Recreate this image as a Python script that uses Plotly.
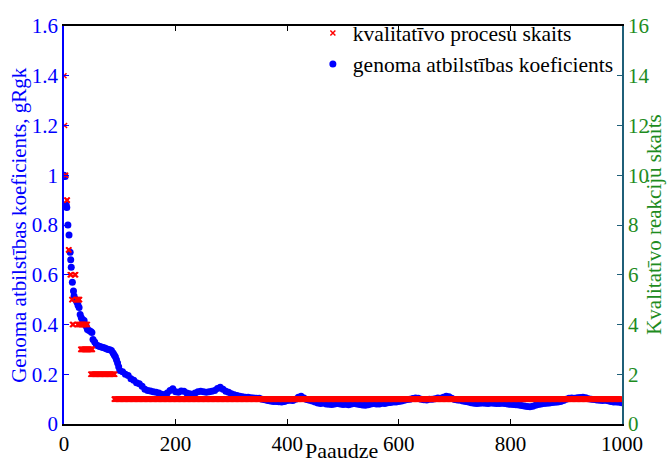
import plotly.graph_objects as go

# ---- data: genome fitness coefficient (left axis) ----
early_gen = [0, 2, 4, 5, 7, 9, 11, 12, 13, 15, 17, 18, 19, 21, 23, 25, 27, 29, 31, 33,
             36, 38, 40, 42, 45, 48, 50, 52, 55, 58, 61, 64, 67, 70, 73, 76, 79, 82, 85, 88,
             90, 92, 94, 96, 98]
early_val = [1.0, 0.995, 0.88, 0.87, 0.80, 0.76, 0.69, 0.66, 0.63, 0.57, 0.535, 0.515, 0.505, 0.50, 0.49, 0.478, 0.468, 0.44, 0.427, 0.42,
             0.416, 0.40, 0.392, 0.38, 0.376, 0.372, 0.368, 0.34, 0.33, 0.318, 0.315, 0.312, 0.31, 0.308, 0.306, 0.303, 0.30, 0.298, 0.295, 0.285,
             0.277, 0.27, 0.258, 0.245, 0.23]

late_gen = list(range(100, 1001, 5))
late_val = [
    0.215, 0.21, 0.20, 0.195, 0.182, 0.176, 0.166, 0.162, 0.152, 0.14,   # 100-145
    0.135, 0.133, 0.13, 0.128, 0.125, 0.12, 0.118, 0.125, 0.135, 0.142,  # 150-195
    0.13, 0.128, 0.133, 0.132, 0.125, 0.122, 0.12, 0.125, 0.13, 0.132,   # 200-245
    0.13, 0.128, 0.13, 0.132, 0.135, 0.143, 0.148, 0.14, 0.132, 0.128,   # 250-295
    0.122, 0.118, 0.115, 0.112, 0.11, 0.108, 0.108, 0.106, 0.105, 0.104, # 300-345
    0.104, 0.10, 0.097, 0.094, 0.092, 0.09, 0.09, 0.089, 0.088, 0.09,    # 350-395
    0.094, 0.095, 0.094, 0.10, 0.108, 0.112, 0.105, 0.098, 0.095, 0.092, # 400-445
    0.088, 0.084, 0.082, 0.084, 0.08, 0.079, 0.078, 0.08, 0.082, 0.08,   # 450-495
    0.078, 0.079, 0.077, 0.08, 0.082, 0.08, 0.078, 0.076, 0.075, 0.077,  # 500-545
    0.08, 0.082, 0.08, 0.08, 0.083, 0.082, 0.085, 0.086, 0.088, 0.088,   # 550-595
    0.09, 0.092, 0.095, 0.098, 0.10, 0.103, 0.105, 0.104, 0.10, 0.097,   # 600-645
    0.096, 0.10, 0.10, 0.102, 0.105, 0.104, 0.108, 0.112, 0.11, 0.104,   # 650-695
    0.098, 0.096, 0.095, 0.092, 0.09, 0.088, 0.085, 0.083, 0.082, 0.083, # 700-745
    0.084, 0.083, 0.082, 0.084, 0.083, 0.082, 0.082, 0.083, 0.082, 0.08, # 750-795
    0.079, 0.078, 0.077, 0.076, 0.074, 0.072, 0.07, 0.069, 0.071, 0.075, # 800-845
    0.078, 0.08, 0.082, 0.083, 0.084, 0.086, 0.087, 0.088, 0.09, 0.094,  # 850-895
    0.10, 0.104, 0.105, 0.104, 0.106, 0.107, 0.108, 0.106, 0.102, 0.10,  # 900-945
    0.098, 0.096, 0.095, 0.094, 0.095, 0.093, 0.09, 0.088, 0.088, 0.087, # 950-995
    0.085,                                                               # 1000
]

# ---- data: number of qualitative processes (right axis), as runs ----
red_val = [14, 12, 10, 9, 7, 6, 5, 4, 6, 5, 4, 3, 2, 1]
red_start = [0, 1, 2, 5, 8, 11, 14, 15, 19, 22, 24, 30, 48, 90]
red_end = [0, 1, 3, 6, 9, 13, 15, 17, 21, 28, 42, 51, 91, 1000]

red_x, red_y = [], []
for s, e, v in zip(red_start, red_end, red_val):
    for g in range(s, e + 1):
        red_x.append(g)
        red_y.append(v)

blue_x = early_gen + late_gen
blue_y = early_val + late_val

FONT = "Liberation Serif, Times New Roman, DejaVu Serif, serif"
BLUE = "#0000ff"
GREEN = "#1e8c1e"
TEAL = "#1f5f78"

fig = go.Figure()
fig.add_trace(go.Scatter(
    x=blue_x, y=blue_y, mode="markers", name="genoma atbilstības koeficients",
    marker=dict(color=BLUE, size=7, line=dict(width=0)), legendrank=2, yaxis="y"))
fig.add_trace(go.Scatter(
    x=red_x, y=red_y, mode="markers", name="kvalitatīvo procesu skaits",
    marker=dict(color="#ff0000", size=5, symbol="x-thin", line=dict(width=1.5, color="#ff0000")),
    legendrank=1, yaxis="y2"))

fig.update_layout(
    width=668, height=468,
    margin=dict(l=64, r=46, t=16, b=42),
    paper_bgcolor="white", plot_bgcolor="white",
    font=dict(family=FONT, size=21, color="black"),
    showlegend=True,
    legend=dict(x=0.446, y=1.034, xanchor="left", yanchor="top",
                bgcolor="rgba(255,255,255,0)", font=dict(family=FONT, size=21.5),
                tracegroupgap=0),
    xaxis=dict(range=[0, 1000], dtick=200, showgrid=False, zeroline=False,
               showline=True, linecolor="black", linewidth=1.5, mirror="ticks",
               ticks="inside", ticklen=5, tickcolor="black",
               tickfont=dict(family=FONT, size=21, color="black")),
    yaxis=dict(range=[0, 1.6], dtick=0.2, showgrid=False, zeroline=False,
               showline=True, linecolor=BLUE, linewidth=1.5,
               ticks="inside", ticklen=5, tickcolor=BLUE,
               tickfont=dict(family=FONT, size=21, color=BLUE)),
    yaxis2=dict(range=[0, 16], dtick=2, overlaying="y", side="right",
                showgrid=False, zeroline=False,
                showline=True, linecolor=TEAL, linewidth=1.5,
                ticks="inside", ticklen=5, tickcolor=TEAL,
                tickfont=dict(family=FONT, size=21, color=GREEN)),
    annotations=[
        dict(text="Paaudze", xref="paper", yref="paper", x=0.498, y=-0.1024,
             xanchor="center", yanchor="bottom", showarrow=False,
             font=dict(family=FONT, size=22, color="black")),
        dict(text="Genoma atbilstības koeficients, gRgk", xref="paper", yref="paper",
             x=-0.081, y=0.5, xanchor="center", yanchor="middle", textangle=-90,
             showarrow=False, font=dict(family=FONT, size=21, color=BLUE)),
        dict(text="Kvalitatīvo reakciju skaits", xref="paper", yref="paper",
             x=1.057, y=0.5, xanchor="center", yanchor="middle", textangle=-90,
             showarrow=False, font=dict(family=FONT, size=21, color=GREEN)),
    ],
)

fig.write_html("out.html")
